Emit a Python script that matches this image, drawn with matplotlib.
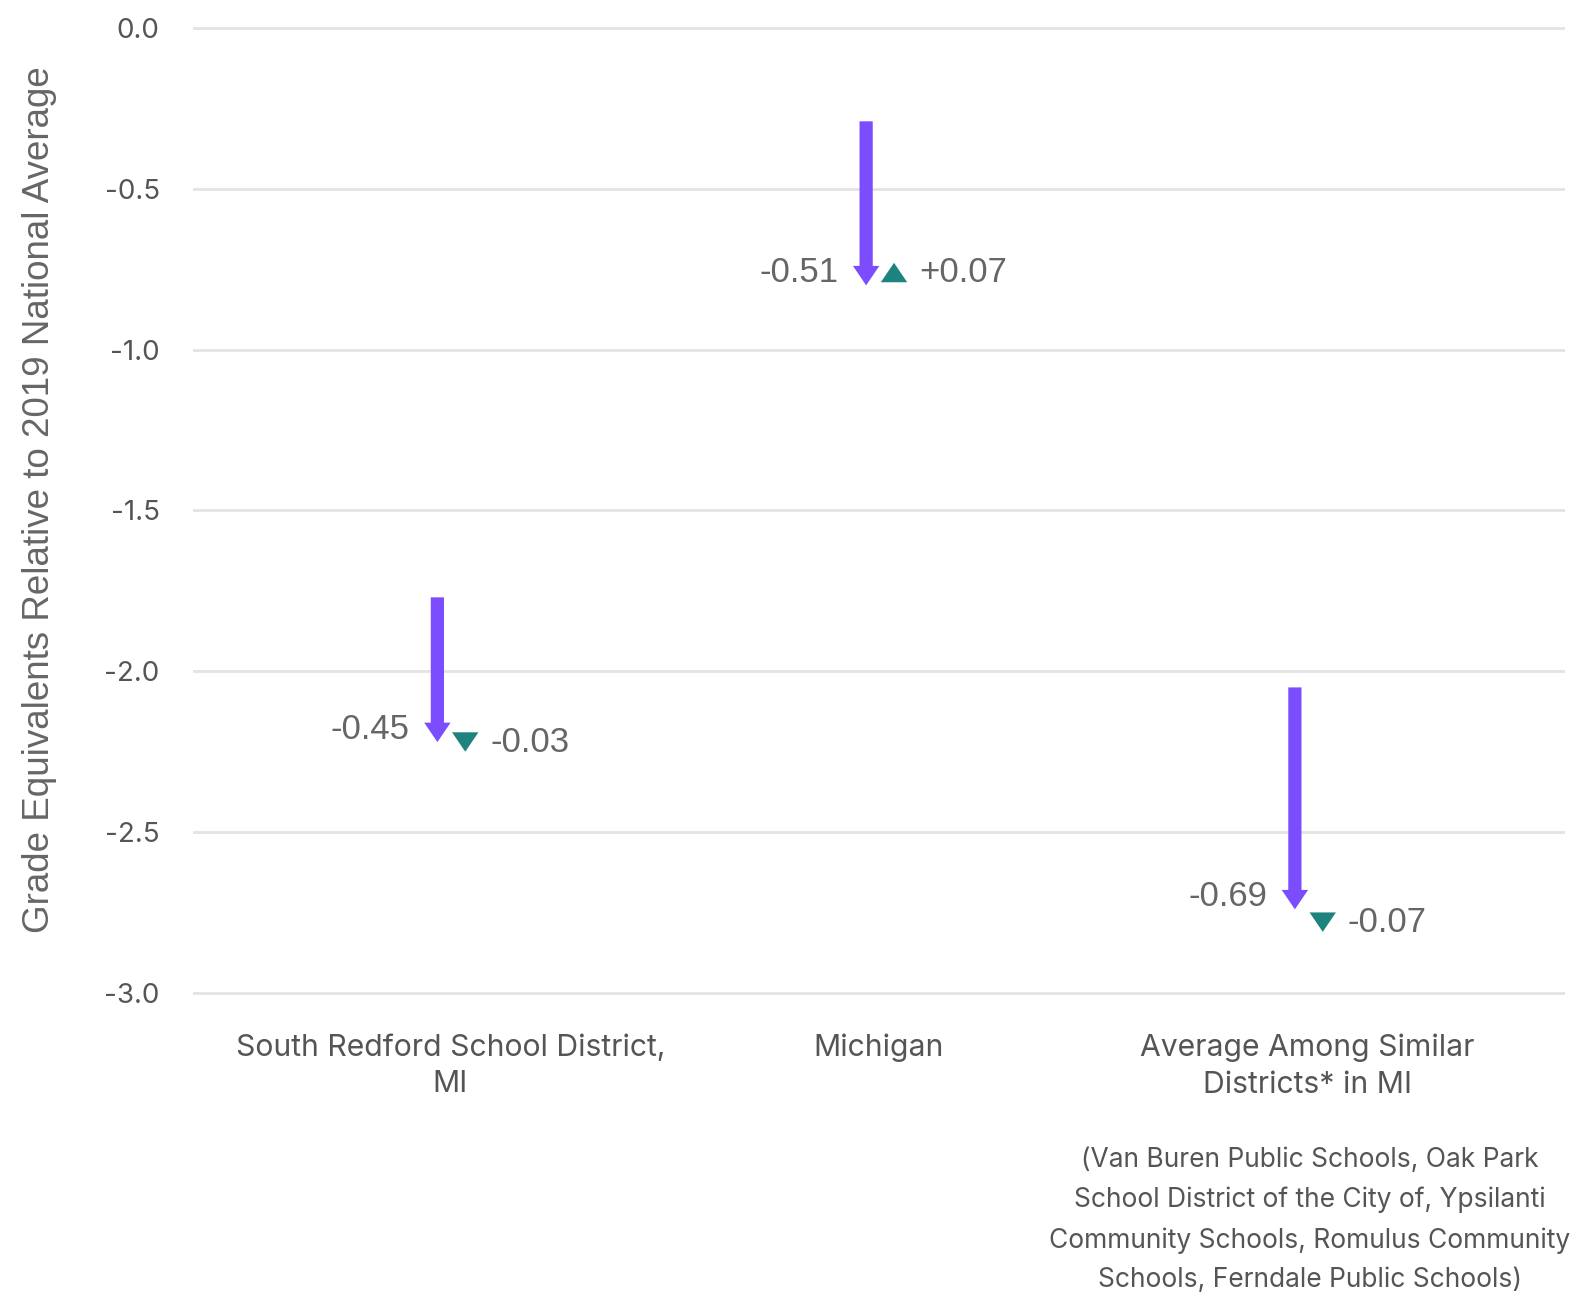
import matplotlib.pyplot as plt
from matplotlib.patches import FancyArrowPatch

# data
categories = ['South Redford School District,\nMI', 'Michigan', 'Average Among Similar\nDistricts* in MI']
start_values = [-1.77, -0.29, -2.05]
first_change = [-0.45, -0.51, -0.69]
second_change = [-0.03, 0.07, -0.07]
first_labels = ['-0.45', '-0.51', '-0.69']
second_labels = ['-0.03', '+0.07', '-0.07']
yticks = [0.0, -0.5, -1.0, -1.5, -2.0, -2.5, -3.0]
ytick_labels = ['0.0', '-0.5', '-1.0', '-1.5', '-2.0', '-2.5', '-3.0']
footnote = ('(Van Buren Public Schools, Oak Park\n'
            'School District of the City of, Ypsilanti\n'
            'Community Schools, Romulus Community\n'
            'Schools, Ferndale Public Schools)')

purple = '#7B4DFF'
teal = '#1E837F'
grey = '#666666'

fig = plt.figure(figsize=(15.83, 13.12), dpi=100)
ax = fig.add_axes([193 / 1583, 1 - 996.2 / 1312, 1372 / 1583, (996.2 - 24.8) / 1312])

ax.set_ylim(-3.01, 0.01)
ax.set_xlim(-0.6, 2.6)
ax.set_yticks(yticks)
ax.set_yticklabels(ytick_labels, fontsize=20, color='#555555', family='Inter')
ax.set_xticks(range(len(categories)))
ax.set_xticklabels(categories, fontsize=21.7, color='#555555', family='Inter', linespacing=1.4)
ax.tick_params(axis='both', length=0)
ax.tick_params(axis='y', pad=24)
ax.tick_params(axis='x', pad=27)
for s in ax.spines.values():
    s.set_visible(False)
ax.yaxis.grid(True, color='#e3e3e3', linewidth=2)
ax.set_axisbelow(True)

ax.set_ylabel('Grade Equivalents Relative to 2019 National Average', fontsize=26.5,
              color=grey, family='Liberation Sans')
ax.yaxis.set_label_coords(-0.099, 0.511)

off1 = -0.03
off2 = 0.035
for i in range(len(categories)):
    s = start_values[i]
    e1 = s + first_change[i]
    e2 = e1 + second_change[i]
    arr = FancyArrowPatch((i + off1, s), (i + off1, e1),
                          arrowstyle='simple,head_length=14,head_width=19,tail_width=9.5',
                          mutation_scale=1, shrinkA=0, shrinkB=0, color=purple, lw=0)
    ax.add_patch(arr)
    direction = 1 if second_change[i] > 0 else -1
    ax.annotate('', xy=(i + off2, e2), xytext=(0, -direction * 14), textcoords='offset points',
                arrowprops=dict(arrowstyle='simple,head_length=14,head_width=19,tail_width=6',
                                mutation_scale=1, shrinkA=0, shrinkB=0, color=teal, lw=0))
    ax.annotate(first_labels[i], xy=(i + off1, e1), xytext=(-20, 9), textcoords='offset points',
                ha='right', va='center', fontsize=25, color=grey, family='Liberation Sans')
    ax.annotate(second_labels[i], xy=(i + off2, e2), xytext=(18, -direction * 7),
                textcoords='offset points', ha='left', va='center', fontsize=25, color=grey,
                family='Liberation Sans')

fig.text(1310 / 1583, 1 - 1147 / 1312, footnote, ha='center', va='top', fontsize=19,
         color='#555555', family='Inter', linespacing=1.68, multialignment='center')

fig.savefig('out.png', dpi=100)
